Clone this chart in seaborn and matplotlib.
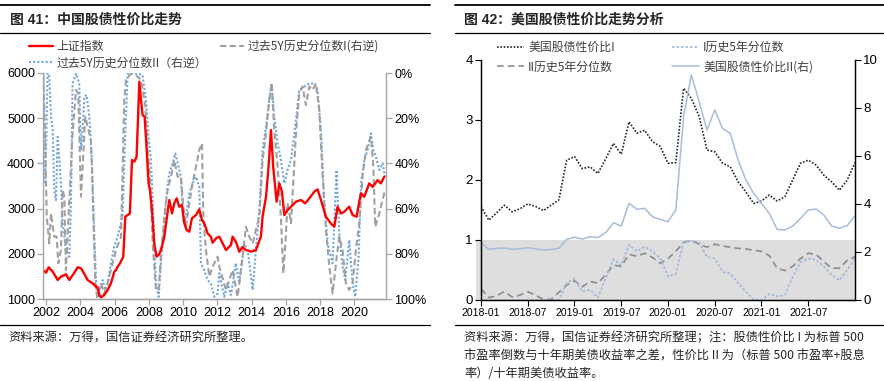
import numpy as np
import pandas as pd
import matplotlib
matplotlib.use("Agg")
import matplotlib.pyplot as plt
import seaborn as sns
from matplotlib.lines import Line2D

# ---------------- data: left chart (China) ----------------
sh_year = [2001.83, 2001.99, 2002.14, 2002.38, 2002.67, 2002.86, 2003.15, 2003.35, 2003.64, 2003.84,
           2004.03, 2004.23, 2004.42, 2004.71, 2004.91, 2005.00, 2005.10, 2005.20, 2005.39, 2005.59,
           2005.78, 2005.98, 2006.08, 2006.17, 2006.31, 2006.50, 2006.62, 2006.76, 2006.89, 2007.01,
           2007.15, 2007.28, 2007.44, 2007.54, 2007.63, 2007.75, 2007.87, 2007.98, 2008.06, 2008.18,
           2008.31, 2008.45, 2008.61, 2008.76, 2008.90, 2009.03, 2009.19, 2009.35, 2009.48, 2009.62,
           2009.77, 2009.93, 2010.07, 2010.20, 2010.36, 2010.51, 2010.75, 2010.94, 2011.10, 2011.23,
           2011.43, 2011.62, 2011.72, 2011.92, 2012.11, 2012.31, 2012.50, 2012.79, 2012.89, 2013.08,
           2013.28, 2013.47, 2013.67, 2013.96, 2014.25, 2014.54, 2014.64, 2014.84, 2014.99, 2015.13,
           2015.26, 2015.46, 2015.62, 2015.77, 2015.91, 2016.10, 2016.30, 2016.59, 2016.88, 2017.13,
           2017.37, 2017.66, 2017.85, 2018.05, 2018.34, 2018.63, 2018.83, 2019.02, 2019.22, 2019.41,
           2019.70, 2019.90, 2020.13, 2020.38, 2020.58, 2020.87, 2021.07, 2021.36, 2021.55, 2021.75]
sh_index = [1641, 1582, 1701, 1605, 1420, 1494, 1546, 1420, 1582, 1701,
            1678, 1553, 1420, 1346, 1273, 1258, 1088, 1037, 1088, 1199,
            1346, 1605, 1641, 1715, 1789, 1936, 2821, 2858, 2895, 4075,
            4038, 4148, 5807, 5402, 5070, 5033, 4296, 3559, 3411, 2969,
            2232, 1936, 1995, 2157, 2378, 2747, 3190, 2895, 3116, 3227,
            3042, 3079, 2674, 2526, 2489, 2784, 2858, 2984, 2747, 2674,
            2452, 2378, 2245, 2342, 2378, 2230, 2083, 2194, 2378, 2267,
            2046, 2150, 2083, 2050, 2083, 2378, 2820, 3263, 3927, 4738,
            3927, 3153, 3558, 3374, 2857, 2968, 3042, 3153, 3190, 3116,
            3227, 3374, 3426, 3190, 2820, 2672, 2600, 3042, 2894, 2930,
            3042, 2857, 2820, 3337, 3263, 3558, 3480, 3632, 3558, 3706]

pctI_year = [2001.83, 2001.93, 2002.03, 2002.18, 2002.28, 2002.47, 2002.61, 2002.71, 2002.86, 2002.96,
             2003.06, 2003.15, 2003.35, 2003.54, 2003.74, 2003.87, 2004.03, 2004.13, 2004.28, 2004.42,
             2004.61, 2004.71, 2004.87, 2005.00, 2005.20, 2005.39, 2005.59, 2005.78, 2006.08, 2006.37,
             2006.56, 2006.66, 2006.95, 2007.24, 2007.54, 2007.79, 2007.92, 2008.06, 2008.22, 2008.41,
             2008.57, 2008.70, 2008.90, 2009.09, 2009.29, 2009.48, 2009.68, 2009.87, 2010.01, 2010.16,
             2010.36, 2010.55, 2010.75, 2010.94, 2011.10, 2011.18, 2011.33, 2011.53, 2011.72, 2012.01,
             2012.11, 2012.50, 2012.89, 2013.18, 2013.47, 2013.67, 2013.86, 2014.06, 2014.25, 2014.45,
             2014.64, 2014.84, 2015.03, 2015.17, 2015.32, 2015.52, 2015.71, 2015.85, 2015.97, 2016.10,
             2016.30, 2016.43, 2016.59, 2016.78, 2016.98, 2017.17, 2017.37, 2017.56, 2017.76, 2017.95,
             2018.15, 2018.34, 2018.54, 2018.73, 2018.93, 2019.12, 2019.31, 2019.51, 2019.70, 2019.90,
             2020.09, 2020.29, 2020.48, 2020.68, 2020.97, 2021.11, 2021.22, 2021.46, 2021.65, 2021.79]
pctI = [0.9, 26.7, 63.6, 75.4, 62.1, 72.4, 72.4, 84.2, 78.3, 51.8,
        54.7, 87.2, 56.2, 26.7, 7.5, 9.0, 54.7, 41.4, 19.3, 23.7,
        29.6, 51.8, 93.1, 99.0, 93.1, 97.5, 93.1, 87.2, 78.3, 72.4,
        11.9, 3.1, 0.2, 0.9, 3.1, 14.9, 34.1, 45.9, 75.4, 96.0,
        96.0, 81.3, 63.6, 51.8, 45.9, 38.5, 45.9, 45.9, 59.2, 68.0,
        57.7, 48.8, 41.4, 34.1, 31.1, 63.6, 78.3, 90.1, 85.7, 81.3,
        85.7, 96.0, 87.2, 99.0, 81.3, 68.0, 72.4, 75.4, 69.5, 63.6,
        38.5, 26.7, 11.9, 4.6, 25.2, 41.4, 63.6, 88.6, 75.4, 57.7,
        66.5, 48.8, 26.7, 9.0, 6.0, 14.2, 6.0, 7.5, 4.6, 16.4,
        45.9, 69.5, 85.7, 97.5, 84.2, 72.4, 78.3, 93.1, 96.0, 93.1,
        78.3, 66.5, 45.9, 34.1, 28.2, 41.4, 68.0, 62.1, 56.2, 51.8]

pctII_year = [2001.83, 2001.93, 2001.99, 2002.08, 2002.18, 2002.28, 2002.38, 2002.47, 2002.57, 2002.67,
              2002.77, 2002.86, 2002.96, 2003.06, 2003.15, 2003.35, 2003.45, 2003.54, 2003.74, 2003.93,
              2004.03, 2004.13, 2004.23, 2004.36, 2004.52, 2004.67, 2004.81, 2004.95, 2005.10, 2005.30,
              2005.45, 2005.59, 2005.78, 2005.98, 2006.17, 2006.46, 2006.62, 2006.76, 2007.05, 2007.34,
              2007.63, 2007.83, 2007.98, 2008.12, 2008.26, 2008.41, 2008.57, 2008.70, 2008.84, 2009.00,
              2009.19, 2009.38, 2009.54, 2009.68, 2009.87, 2010.01, 2010.16, 2010.36, 2010.55, 2010.75,
              2010.94, 2011.04, 2011.23, 2011.43, 2011.62, 2011.82, 2012.01, 2012.11, 2012.40, 2012.60,
              2012.79, 2013.08, 2013.28, 2013.57, 2013.77, 2014.06, 2014.25, 2014.45, 2014.64, 2014.84,
              2015.03, 2015.17, 2015.32, 2015.52, 2015.71, 2015.91, 2016.10, 2016.30, 2016.59, 2016.78,
              2017.08, 2017.37, 2017.66, 2017.85, 2018.05, 2018.24, 2018.44, 2018.73, 2018.96, 2019.12,
              2019.31, 2019.47, 2019.70, 2019.90, 2020.05, 2020.25, 2020.39, 2020.58, 2020.78, 2020.97,
              2021.11, 2021.26, 2021.46, 2021.65, 2021.79]
pctII = [0.0, 48.3, 34.1, 0.0, 1.6, 19.3, 25.2, 51.8, 56.2, 28.2,
         38.5, 48.8, 66.5, 72.4, 78.3, 81.3, 56.2, 4.6, 0.2, 4.6,
         34.1, 25.2, 10.4, 9.7, 19.3, 38.5, 72.4, 99.0, 96.0, 91.6,
         96.0, 93.1, 84.2, 76.8, 72.4, 63.6, 26.7, 0.2, 0.2, 0.2,
         0.9, 11.9, 28.2, 38.5, 63.6, 93.1, 99.0, 84.2, 72.4, 56.2,
         44.4, 39.9, 35.6, 39.9, 45.9, 66.5, 63.6, 53.2, 48.8, 45.9,
         50.3, 84.2, 87.2, 91.6, 93.1, 99.0, 97.5, 88.6, 99.0, 93.1,
         98.2, 84.2, 93.1, 75.4, 78.3, 96.0, 78.3, 60.6, 34.1, 23.7,
         11.9, 4.6, 19.3, 31.1, 38.5, 48.8, 42.9, 38.5, 20.8, 7.5,
         6.0, 4.6, 4.6, 7.5, 25.2, 56.2, 75.4, 84.2, 42.9, 70.9,
         85.7, 91.6, 73.9, 93.1, 99.0, 81.3, 48.8, 38.5, 34.1, 26.7,
         34.1, 37.0, 42.9, 39.9, 45.9]

left_xticks = [2002, 2004, 2006, 2008, 2010, 2012, 2014, 2016, 2018, 2020]
left_yticks = [1000, 2000, 3000, 4000, 5000, 6000]
left_pticks = [0, 20, 40, 60, 80, 100]

# ---------------- data: right chart (US) ----------------
months = [f"{y}-{m:02d}" for y in (2018, 2019, 2020, 2021) for m in range(1, 13)] + ["2022-01"]
us_ratio_I = [1.56, 1.33, 1.45, 1.58, 1.47, 1.52, 1.60, 1.56, 1.49, 1.58,
              1.67, 2.33, 2.39, 2.19, 2.22, 2.11, 2.35, 2.61, 2.43, 2.97,
              2.78, 2.83, 2.64, 2.56, 2.28, 2.29, 3.53, 3.36, 3.06, 2.50,
              2.47, 2.28, 2.22, 1.97, 1.80, 1.61, 1.65, 1.75, 1.65, 1.72,
              2.00, 2.28, 2.33, 2.25, 2.08, 1.97, 1.83, 2.00, 2.29]
us_pct_I = [0.0, 0.0, 0.0, 0.0, 0.0, 0.0, 0.0, 0.0, 0.0, 0.0,
            0.0, 0.28, 0.36, 0.14, 0.17, 0.04, 0.36, 0.68, 0.58, 0.92,
            0.81, 0.89, 0.81, 0.70, 0.39, 0.44, 0.97, 0.99, 0.96, 0.72,
            0.69, 0.47, 0.44, 0.28, 0.14, 0.0, 0.0, 0.10, 0.06, 0.08,
            0.39, 0.63, 0.69, 0.67, 0.56, 0.42, 0.33, 0.50, 0.69]
us_pct_II = [0.19, 0.04, 0.07, 0.14, 0.05, 0.08, 0.14, 0.08, 0.01, 0.01,
             0.13, 0.25, 0.32, 0.22, 0.31, 0.28, 0.42, 0.58, 0.56, 0.76,
             0.73, 0.78, 0.71, 0.61, 0.69, 0.81, 0.96, 0.99, 0.93, 0.88,
             0.93, 0.90, 0.88, 0.86, 0.85, 0.83, 0.81, 0.74, 0.53, 0.49,
             0.56, 0.69, 0.78, 0.76, 0.64, 0.53, 0.53, 0.66, 0.72]
us_ratio_II = [2.39, 2.11, 2.15, 2.17, 2.11, 2.14, 2.18, 2.13, 2.08, 2.10,
               2.16, 2.53, 2.61, 2.54, 2.64, 2.60, 2.81, 3.22, 3.08, 4.03,
               3.78, 3.82, 3.47, 3.36, 3.26, 3.75, 7.64, 9.38, 8.26, 7.08,
               7.92, 7.15, 6.94, 5.83, 5.00, 4.44, 4.03, 3.61, 2.94, 2.92,
               3.08, 3.40, 3.75, 3.79, 3.54, 3.08, 2.99, 3.10, 3.51]
right_xtick_labels = ["2018-01", "2018-07", "2019-01", "2019-07", "2020-01", "2020-07", "2021-01", "2021-07"]

# ---------------- figure ----------------
sns.set_theme(style="ticks")
plt.rcParams["font.family"] = ["Liberation Sans", "Noto Sans CJK SC", "DejaVu Sans"]
plt.rcParams["axes.unicode_minus"] = False
CJK = ["Noto Sans CJK SC", "DejaVu Sans"]

W, H = 884, 381
fig = plt.figure(figsize=(W / 100, H / 100), dpi=100)
fig.patch.set_facecolor("white")

def fx(p):
    return p / W

def fy(p):
    return 1 - p / H

# ---- left axes ----
GRAYSP = "#a6a6a6"
axL = fig.add_axes([fx(43.3), fy(299), (386 - 43.3) / W, (299 - 73) / H])
axLr = axL.twinx()

df_sh = pd.DataFrame({"year": sh_year, "v": sh_index})
df_p1 = pd.DataFrame({"year": pctI_year, "p": pctI})
df_p2 = pd.DataFrame({"year": pctII_year, "p": pctII})

c_red = "#ff0000"
c_gray = "#a0a0a0"
c_blue = "#6fa6dc"
sns.lineplot(data=df_p2, x="year", y="p", ax=axLr, color=c_blue, lw=1.5,
             linestyle=(0, (1, 1)), sort=False, errorbar=None)
sns.lineplot(data=df_p1, x="year", y="p", ax=axLr, color=c_gray, lw=1.5,
             linestyle=(0, (3, 1.6)), sort=False, errorbar=None)
sns.lineplot(data=df_sh, x="year", y="v", ax=axL, color=c_red, lw=1.7,
             sort=False, errorbar=None)

axL.set_zorder(axLr.get_zorder() + 1)
axL.patch.set_visible(False)

axL.set_xlim(2001.83, 2021.85)
axL.set_ylim(1000, 6000)
axL.set_xticks(left_xticks)
axL.set_xticklabels([str(t) for t in left_xticks])
axL.set_yticks(left_yticks)
axL.set_yticklabels([str(t) for t in left_yticks])
axLr.set_ylim(100, 0)
axLr.set_yticks(left_pticks)
axLr.set_yticklabels([f"{t}%" for t in left_pticks])
for a in (axL, axLr):
    a.set_xlabel("")
    a.set_ylabel("")
    a.spines["top"].set_visible(False)
    for s in ("left", "right", "bottom"):
        a.spines[s].set_color(GRAYSP)
        a.spines[s].set_linewidth(1.0)
    a.tick_params(axis="both", direction="out", length=4, width=0.9, color=GRAYSP,
                  labelsize=9, labelcolor="black", pad=2)
axLr.spines["left"].set_visible(False)
axL.spines["right"].set_visible(False)

hL = [Line2D([], [], color=c_red, lw=1.7),
      Line2D([], [], color=c_blue, lw=1.5, linestyle=(0, (1, 1))),
      Line2D([], [], color=c_gray, lw=1.5, linestyle=(0, (3, 1.6)))]
labL = ["上证指数", "过去5Y历史分位数II（右逆）", "过去5Y历史分位数I(右逆)"]
legL = fig.legend(hL, labL, ncol=2, loc="upper left", bbox_to_anchor=(fx(29), fy(40)),
                  frameon=False, prop={"family": CJK, "size": 8.6}, handlelength=2.0,
                  handletextpad=0.3, columnspacing=1.1, labelspacing=0.3,
                  borderpad=0, borderaxespad=0)
for t in legL.get_texts():
    t.set_color("#404040")

# ---- right axes ----
axR = fig.add_axes([fx(481), fy(300), 374 / W, 240 / H])
axRr = axR.twinx()
idx = np.arange(len(months))
df_us = pd.DataFrame({"m": idx, "r1": us_ratio_I, "p1": us_pct_I, "p2": us_pct_II, "r2": us_ratio_II})

axR.fill_between([-0.6, idx[-1]], [0, 0], [1, 1], color="#dedede", lw=0, zorder=0, clip_on=False)

c_black = "#262626"
c_lb = "#9cb6e0"
c_dg = "#8c8c8c"
c_sb = "#a9bcdb"
sns.lineplot(data=df_us, x="m", y="p2", ax=axR, color=c_dg, lw=1.2,
             linestyle=(0, (4, 2.5)), errorbar=None)
sns.lineplot(data=df_us, x="m", y="p1", ax=axR, color=c_lb, lw=1.2,
             linestyle=(0, (1.5, 1.2)), errorbar=None)
sns.lineplot(data=df_us, x="m", y="r1", ax=axR, color=c_black, lw=1.2,
             linestyle=(0, (1, 1)), errorbar=None)
sns.lineplot(data=df_us, x="m", y="r2", ax=axRr, color=c_sb, lw=1.1, errorbar=None)

axR.set_xlim(0, idx[-1])
axR.set_ylim(0, 4)
axR.set_yticks([0, 1, 2, 3, 4])
axR.set_yticklabels(["0", "1", "2", "3", "4"])
axR.set_xticks(idx[::6][:len(right_xtick_labels)])
axR.set_xticklabels(right_xtick_labels)
axRr.set_ylim(0, 10)
axRr.set_yticks([0, 2, 4, 6, 8, 10])
axRr.set_yticklabels(["0", "2", "4", "6", "8", "10"])
for a in (axR, axRr):
    a.set_xlabel("")
    a.set_ylabel("")
    a.spines["top"].set_visible(False)
    for s in ("left", "right", "bottom"):
        a.spines[s].set_color("black")
        a.spines[s].set_linewidth(0.9)
    a.tick_params(axis="y", direction="out", length=4, width=0.8, color="black",
                  labelsize=9.5, labelcolor="black", pad=2)
axR.tick_params(axis="x", direction="out", length=4, width=0.8, color="black",
                labelsize=7.5, labelcolor="black", pad=2)

hR = [Line2D([], [], color=c_black, lw=1.2, linestyle=(0, (1, 1))),
      Line2D([], [], color=c_dg, lw=1.2, linestyle=(0, (4, 2.5))),
      Line2D([], [], color=c_lb, lw=1.2, linestyle=(0, (1.5, 1.2))),
      Line2D([], [], color=c_sb, lw=1.1)]
labR = ["美国股债性价比I", "II历史5年分位数", "I历史5年分位数", "美国股债性价比II(右)"]
legR = fig.legend(hR, labR, ncol=2, loc="upper left", bbox_to_anchor=(fx(497), fy(41)),
                  frameon=False, prop={"family": CJK, "size": 8.6}, handlelength=2.3,
                  handletextpad=0.3, columnspacing=4.8, labelspacing=0.55,
                  borderpad=0, borderaxespad=0)
for t in legR.get_texts():
    t.set_color("#404040")

# ---- titles, rules and notes ----
fig.text(fx(10), fy(20), "图 41：中国股债性价比走势", fontsize=10, fontweight="bold",
         va="center", ha="left")
fig.text(fx(464), fy(20), "图 42：美国股债性价比走势分析", fontsize=10, fontweight="bold",
         va="center", ha="left")
for (x0, x1) in ((0, 430), (455, 884)):
    fig.add_artist(Line2D([fx(x0), fx(x1)], [fy(5), fy(5)], color="black", lw=1.3))
    fig.add_artist(Line2D([fx(x0), fx(x1)], [fy(33), fy(33)], color="black", lw=0.9))
    fig.add_artist(Line2D([fx(x0), fx(x1)], [fy(325), fy(325)], color="black", lw=0.9))

fig.text(fx(8), fy(338), "资料来源：万得，国信证券经济研究所整理。", fontsize=8.8,
         family=CJK, va="center", ha="left")
notes = ["资料来源：万得，国信证券经济研究所整理；注：股债性价比 I 为标普 500",
         "市盈率倒数与十年期美债收益率之差，性价比 II 为（标普 500 市盈率+股息",
         "率）/十年期美债收益率。"]
for i, line in enumerate(notes):
    fig.text(fx(464), fy(338 + 17.7 * i), line, fontsize=8.8, family=CJK,
             va="center", ha="left")

fig.savefig("out.png", dpi=100, facecolor="white")
